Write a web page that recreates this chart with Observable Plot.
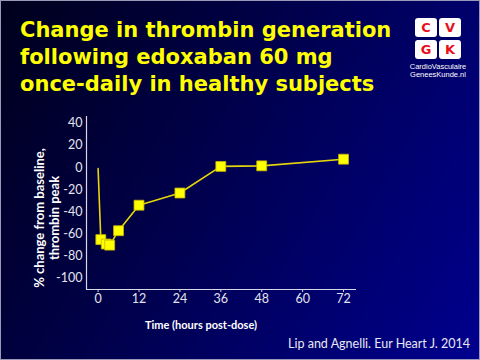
<!DOCTYPE html>
<html>
<head>
<meta charset="utf-8">
<script src="https://cdn.jsdelivr.net/npm/d3@7"></script>
<script src="https://cdn.jsdelivr.net/npm/@observablehq/plot@0.6"></script>
<style>
  html, body { margin: 0; padding: 0; }
  body { width: 480px; height: 360px; overflow: hidden; }
  #slide {
    position: relative; width: 478px; height: 358px;
    border: 1px solid #9a9ab8;
    background: linear-gradient(120deg, #00001c 0%, #000042 35%, #00006c 70%, #00008e 100%);
    overflow: hidden;
  }
  #title {
    position: absolute; left: 19px; top: 16px;
    font-family: "DejaVu Sans", Verdana, sans-serif; font-weight: bold;
    font-size: 21px; line-height: 27px; color: #ffff00; white-space: nowrap;
  }
  .cell {
    position: absolute; width: 22px; height: 19px; background: #fff; border-radius: 3px;
    color: #e8101c; font-family: "DejaVu Sans", Verdana, sans-serif; font-weight: bold;
    font-size: 13px; line-height: 19px; text-align: center;
  }
  .logotext {
    position: absolute; left: 408px; width: 58px; text-align: center; color: #fff;
    font-family: "Liberation Sans Narrow", "Liberation Sans", sans-serif; font-size: 7.5px; line-height: 8px;
    white-space: nowrap;
  }
  #ylabel {
    position: absolute; left: 46px; top: 217px;
    transform: translate(-50%, -50%) rotate(-90deg);
    font-family: Lato, "Open Sans", sans-serif; font-weight: bold; font-size: 13px; line-height: 15px;
    color: #ffffff; text-align: center; white-space: nowrap;
  }
  #xlabel {
    position: absolute; left: 200px; top: 323px; transform: translate(-50%, -50%);
    font-family: Lato, "Open Sans", sans-serif; font-weight: bold; font-size: 11px;
    color: #ffffff; white-space: nowrap;
  }
  #caption {
    position: absolute; right: 9px; top: 342px; transform: translateY(-50%);
    font-family: Lato, "Open Sans", sans-serif; font-size: 12.5px; color: #e8e8f0; white-space: nowrap;
  }
  #chart { position: absolute; left: 0; top: 100px; }
</style>
</head>
<body>
<div id="slide">
  <div id="title">Change in thrombin generation<br>following edoxaban 60 mg<br>once-daily in healthy subjects</div>
  <div class="cell" style="left:414px;top:17px;">C</div>
  <div class="cell" style="left:438px;top:17px;">V</div>
  <div class="cell" style="left:414px;top:39px;">G</div>
  <div class="cell" style="left:438px;top:39px;">K</div>
  <div class="logotext" style="top:62px;">CardioVasculaire</div>
  <div class="logotext" style="top:70px;">GeneesKunde.nl</div>
  <div id="chart"></div>
  <div id="ylabel">% change from baseline,<br>thrombin peak</div>
  <div id="xlabel">Time (hours post-dose)</div>
  <div id="caption">Lip and Agnelli. Eur Heart J. 2014</div>
</div>
<script>
const hours   = [0, 0.8, 2.4, 3.4, 6, 12, 24, 36, 48, 72];
const change  = [-1, -65, -69, -70, -57, -34, -23, 1, 1.5, 7.5];
const hasMarker = [false, true, true, true, true, true, true, true, true, true];
const xTicks = [0, 12, 24, 36, 48, 60, 72];
const yTicks = [-100, -80, -60, -40, -20, 0, 20, 40];
const xDomain = [-3.4, 75.8];
const yDomain = [-110, 46];

const data = hours.map((h, i) => ({h, v: change[i], m: hasMarker[i]}));

const chart = Plot.plot({
  width: 370, height: 215,
  marginLeft: 85, marginRight: 15, marginTop: 15, marginBottom: 27,
  style: {background: "transparent", color: "#e4e4ec", fontFamily: "Lato, 'Open Sans', sans-serif", fontSize: "12.5px"},
  x: {domain: xDomain},
  y: {domain: yDomain},
  marks: [
    Plot.axisY({ticks: yTicks, tickSize: 0, tickPadding: 4, tickFormat: d => String(d), label: null, fontSize: 12.5}),
    Plot.axisX({ticks: xTicks, tickSize: 3, tickPadding: 2, tickFormat: d => String(d), label: null, fontSize: 12.5, stroke: "#d8d8e4"}),
    Plot.ruleX([xDomain[0]], {stroke: "#d8d8e4", strokeWidth: 1.2}),
    Plot.ruleY([yDomain[0]], {stroke: "#d8d8e4", strokeWidth: 1.2}),
    Plot.line(data, {x: "h", y: "v", stroke: "#e6d60a", strokeWidth: 1.6}),
    Plot.dot(data.filter(d => d.m), {x: "h", y: "v", symbol: "square", r: 5.6, fill: "#ffff00", stroke: "#c9b200", strokeWidth: 0.8})
  ]
});
document.getElementById("chart").appendChild(chart);
</script>
</body>
</html>
